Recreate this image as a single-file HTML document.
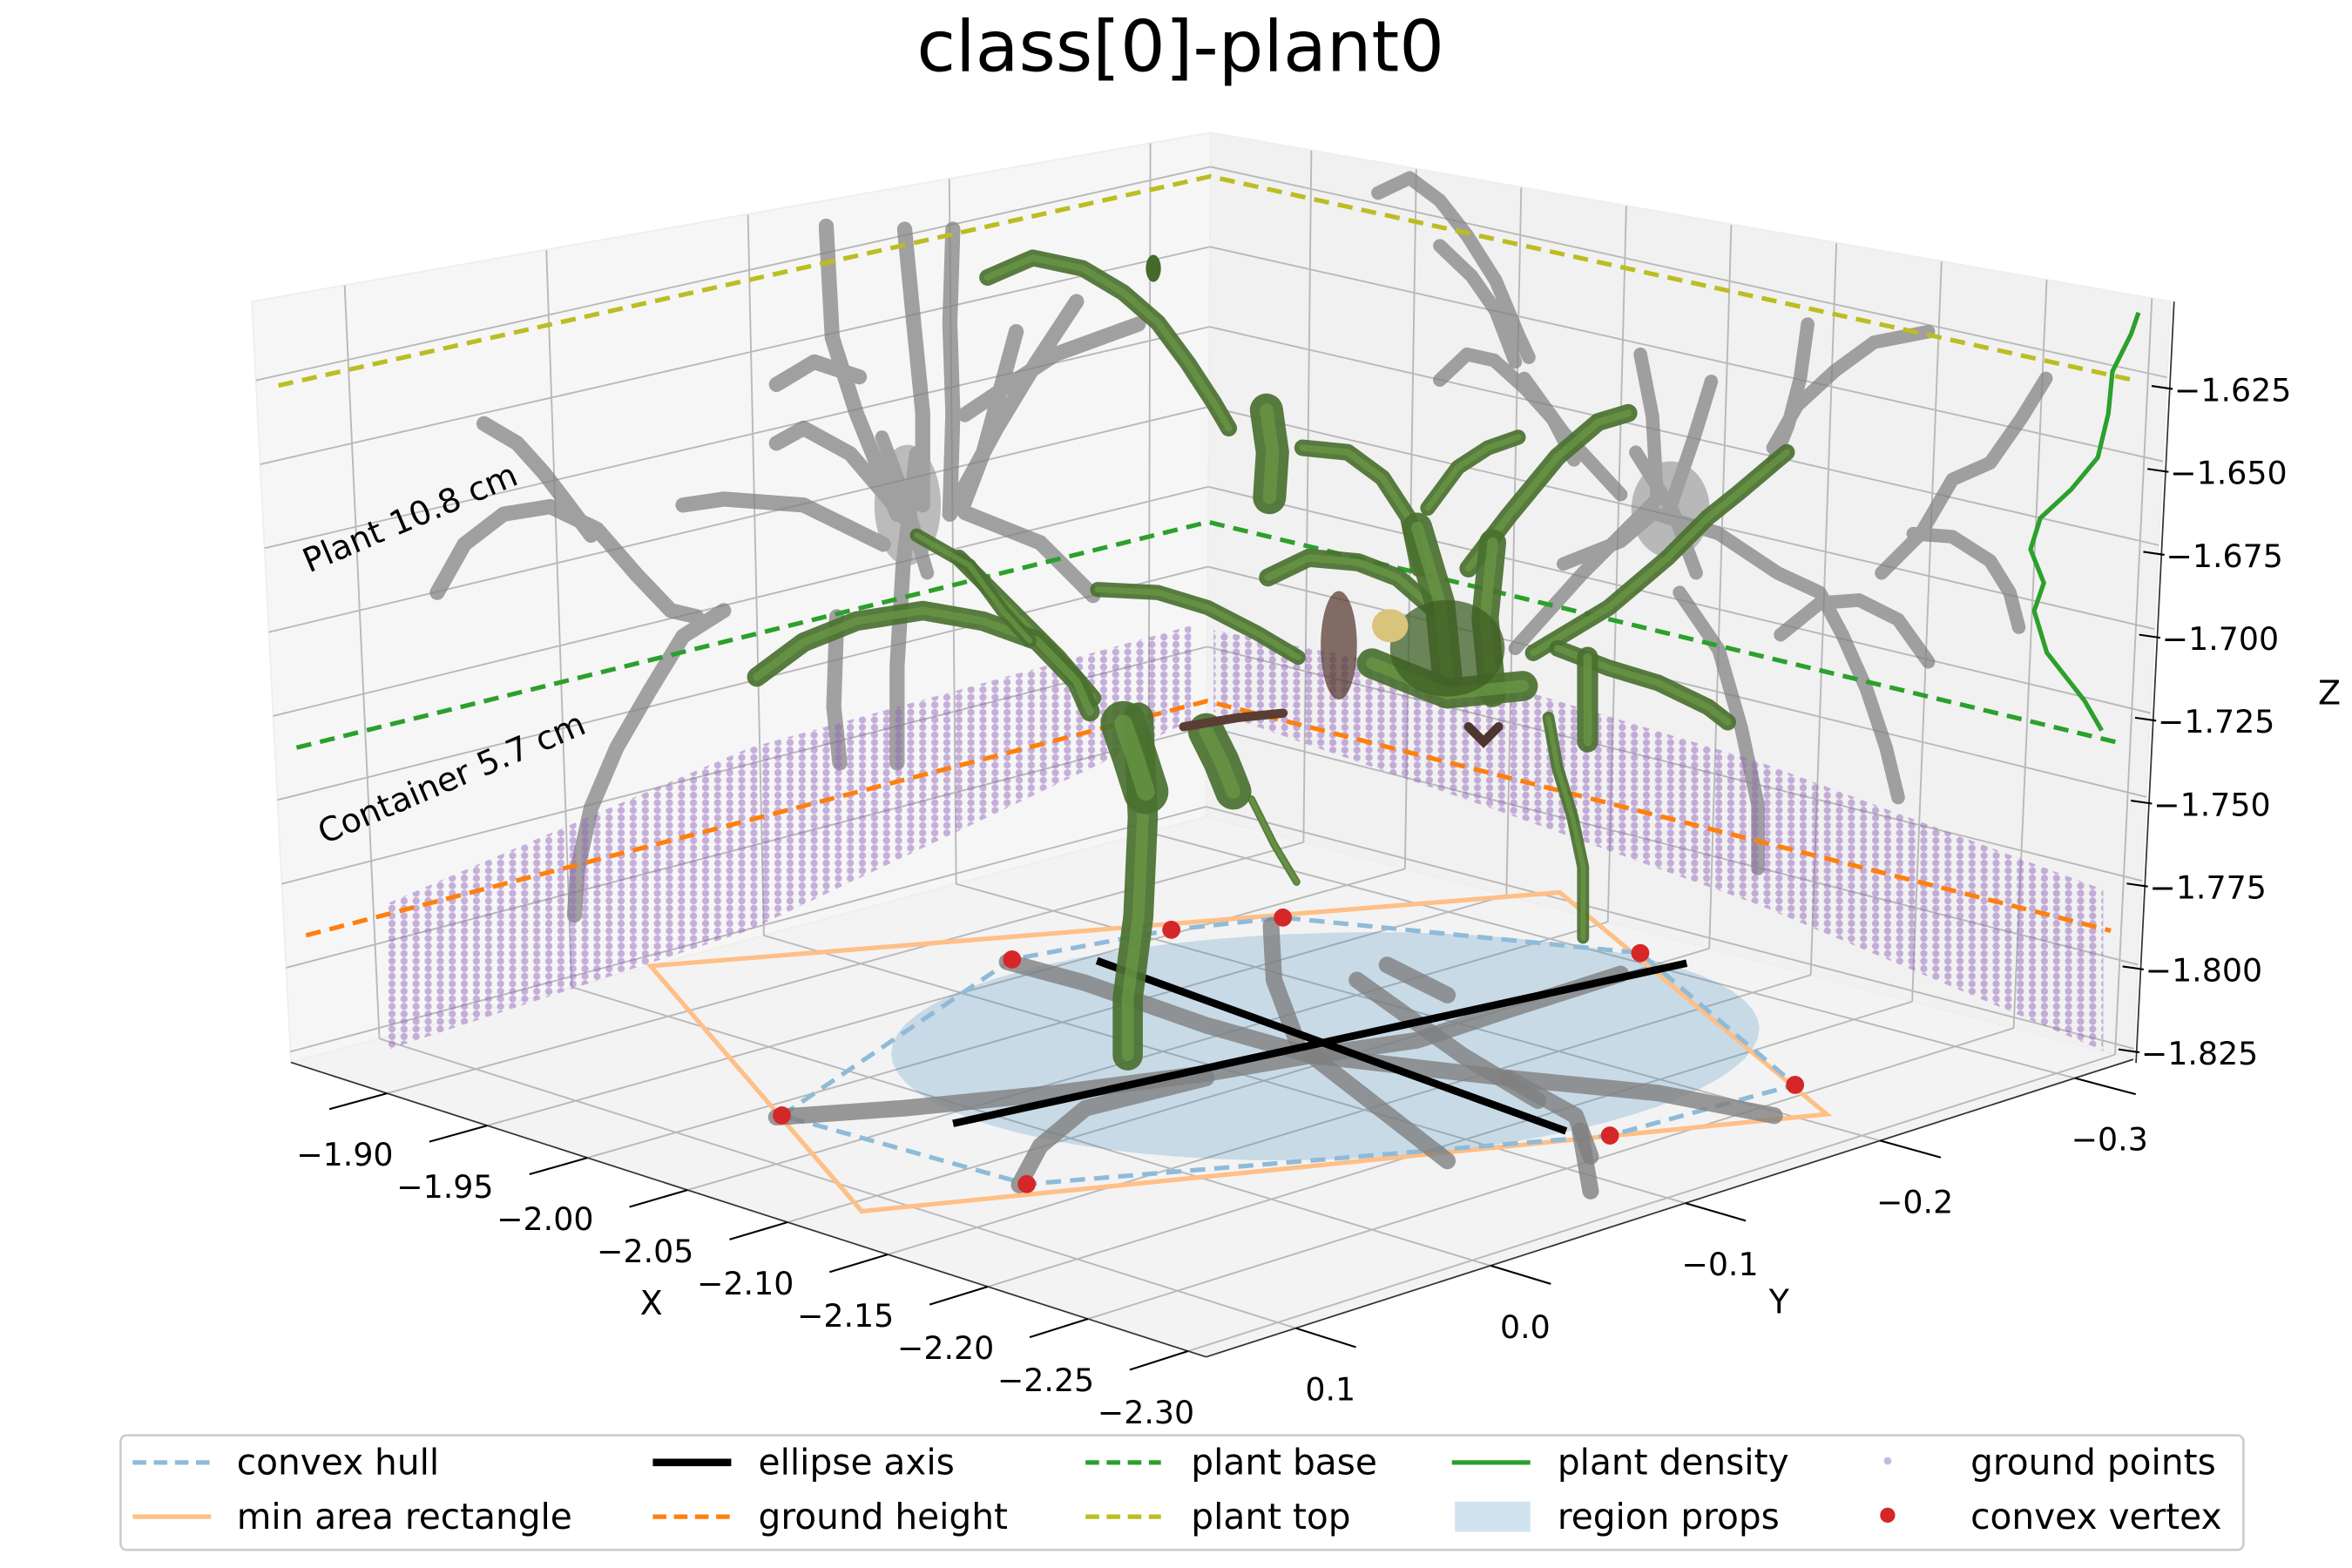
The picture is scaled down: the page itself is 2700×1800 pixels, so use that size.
<!DOCTYPE html>
<html><head><meta charset="utf-8">
<style>
html,body{margin:0;padding:0;background:#fff;}
svg{display:block;font-family:"DejaVu Sans","Liberation Sans",sans-serif;}
</style></head>
<body>
<svg id="chart" xmlns="http://www.w3.org/2000/svg" width="2700" height="1800" viewBox="0 0 1560 1040">
<defs>
<pattern id="purpleDots" width="8" height="5" patternUnits="userSpaceOnUse">
<circle cx="4" cy="2.5" r="2.4" fill="#9467bd" fill-opacity="0.5"/>
</pattern>
</defs>
<rect x="0" y="0" width="1560" height="1040" fill="#fff"/>
<text x="783" y="47" font-size="47" text-anchor="middle" fill="#000">class[0]-plant0</text>
<g id="panes"></g>
<g id="grid"></g>
<g id="shadows" opacity="0.72"></g>
<g id="ground"></g>
<g id="levels"></g>
<g id="floor"></g>
<g id="plant"></g>
<g id="verts"></g>
<g id="axes"></g>
<text x="205" y="380" font-size="22" transform="rotate(-23 205 380)">Plant 10.8 cm</text>
<text x="215" y="560" font-size="22" transform="rotate(-23 215 560)">Container 5.7 cm</text>
<g id="legend" font-size="23.5">
<rect x="80" y="952" width="1408" height="76" rx="4" fill="#fff" fill-opacity="0.8" stroke="#cccccc" stroke-width="1.5"/>
<g><line x1="88" y1="970" x2="140" y2="970" stroke="#8fbbd9" stroke-width="3" stroke-dasharray="9,5"/><text x="157" y="978">convex hull</text></g>
<g><line x1="88" y1="1006" x2="140" y2="1006" stroke="#ffbf86" stroke-width="3"/><text x="157" y="1014">min area rectangle</text></g>
<g><line x1="433" y1="970" x2="485" y2="970" stroke="#000" stroke-width="5"/><text x="503" y="978">ellipse axis</text></g>
<g><line x1="433" y1="1006" x2="485" y2="1006" stroke="#ff7f0e" stroke-width="3" stroke-dasharray="9,5"/><text x="503" y="1014">ground height</text></g>
<g><line x1="720" y1="970" x2="770" y2="970" stroke="#2ca02c" stroke-width="3" stroke-dasharray="9,5"/><text x="790" y="978">plant base</text></g>
<g><line x1="720" y1="1006" x2="770" y2="1006" stroke="#bcbd22" stroke-width="3" stroke-dasharray="9,5"/><text x="790" y="1014">plant top</text></g>
<g><line x1="963" y1="970" x2="1015" y2="970" stroke="#2ca02c" stroke-width="3"/><text x="1033" y="978">plant density</text></g>
<g><rect x="965" y="996" width="50" height="20" fill="#d2e3f0"/><text x="1033" y="1014">region props</text></g>
<g><circle cx="1252" cy="969" r="2.5" fill="#c9b8de"/><text x="1307" y="978">ground points</text></g>
<g><circle cx="1252" cy="1005" r="5" fill="#d62728"/><text x="1307" y="1014">convex vertex</text></g>
</g>
</svg>
<script>
// ---- data ----
const xTicks = [-1.90,-1.95,-2.00,-2.05,-2.10,-2.15,-2.20,-2.25,-2.30];
const xTickLabels = ["\u22121.90","\u22121.95","\u22122.00","\u22122.05","\u22122.10","\u22122.15","\u22122.20","\u22122.25","\u22122.30"];
const yTicks = [0.1,0.0,-0.1,-0.2,-0.3];
const yTickLabels = ["0.1","0.0","\u22120.1","\u22120.2","\u22120.3"];
const zTicks = [-1.625,-1.650,-1.675,-1.700,-1.725,-1.750,-1.775,-1.800,-1.825];
const zTickLabels = ["\u22121.625","\u22121.650","\u22121.675","\u22121.700","\u22121.725","\u22121.750","\u22121.775","\u22121.800","\u22121.825"];
const plantTopZ = -1.628;
const plantBaseZ = -1.736;
const groundZ = -1.792;
const hullX = [-2.011,-1.933,-1.946,-1.963,-2.086,-2.240,-2.234,-2.127];
const hullY = [0.0567,-0.144,-0.213,-0.253,-0.309,-0.228,-0.139,0.0505];
const rectX = [-1.852,-2.011,-2.273,-2.109];
const rectY = [-0.041,-0.346,-0.210,0.117];
const ellipseCenter = [-2.084,-0.148];
const ellipseU = [-0.099,-0.121];
const ellipseV = [0.097,-0.101];
const axis1X = [-2.059,-2.107];
const axis1Y = [0.018,-0.311];
const axis2X = [-1.955,-2.219];
const axis2Y = [-0.165,-0.132];
const densityZ = [-1.6077,-1.6145,-1.6268,-1.6395,-1.6532,-1.6645,-1.675,-1.685,-1.694,-1.703,-1.7145,-1.726,-1.7336];
const densityX = [-2.294,-2.291,-2.283,-2.282,-2.278,-2.266,-2.252,-2.248,-2.255,-2.251,-2.258,-2.277,-2.286];

// ---- projection ----
const XMIN=-1.852, XSPAN=0.457, YMAX=0.146, YSPAN=0.476, ZB=-1.8282;
const YLO=-0.33, XLO=-2.309;
function edgeL(z){const y=259+(-1.628-z)*2226;return [193-(705-y)*0.0515,y];}
function edgeB(z){const y=117+(-1.628-z)*2122;return [800+(542-y)*0.0066,y];}
function edgeR(z){const y=257+(-1.628-z)*2226;return [1415+(702-y)*0.0495,y];}
function edgeF(z){return [800,900-(z-ZB)*2350];}
function P(x,y,z){
  const s=(XMIN-x)/XSPAN, t=(YMAX-y)/YSPAN;
  const L=edgeL(z),F=edgeF(z),R=edgeR(z),B=edgeB(z);
  const a=(1-s)*(1-t),b=s*(1-t),c=s*t,d=(1-s)*t;
  return [a*L[0]+b*F[0]+c*R[0]+d*B[0], a*L[1]+b*F[1]+c*R[1]+d*B[1]];
}
function topZleft(y){const t=(YMAX-y)/YSPAN;return -1.6015+(-1.6143+1.6015)*t;}
function topZright(x){const s=(XMIN-x)/XSPAN;return -1.6143+(-1.6024+1.6143)*s;}
const NS='http://www.w3.org/2000/svg';
function mk(parent,tag,attrs){const e=document.createElementNS(NS,tag);for(const k in attrs)e.setAttribute(k,attrs[k]);parent.appendChild(e);return e;}
function pts(arr){return arr.map(p=>p[0].toFixed(1)+','+p[1].toFixed(1)).join(' ');}

// panes
const panes=document.getElementById('panes');
let el;
el=mk(panes,'polygon',{points:pts([P(XMIN,YMAX,ZB),P(XMIN,YMAX,topZleft(YMAX)),P(XMIN,YLO,topZleft(YLO)),P(XMIN,YLO,ZB)]),fill:'#f6f6f6',stroke:'#eeeeee'});


el=mk(panes,'polygon',{points:pts([P(XMIN,YLO,ZB),P(XMIN,YLO,topZright(XMIN)),P(XLO,YLO,topZright(XLO)),P(XLO,YLO,ZB)]),fill:'#f1f1f1',stroke:'#eeeeee'});


el=mk(panes,'polygon',{points:pts([P(XMIN,YMAX,ZB),P(XLO,YMAX,ZB),P(XLO,YLO,ZB),P(XMIN,YLO,ZB)]),fill:'#f3f3f3',stroke:'#eeeeee'});



// grid
const grid=document.getElementById('grid');
const gs={stroke:'#b9b9b9','stroke-width':1.1,fill:'none'};
function gline(a,b,name){const e=mk(grid,'line',Object.assign({x1:a[0],y1:a[1],x2:b[0],y2:b[1]},gs));}
zTicks.forEach(z=>{gline(P(XMIN,YMAX,z),P(XMIN,YLO,z),'z-grid-left');gline(P(XMIN,YLO,z),P(XLO,YLO,z),'z-grid-right');});
yTicks.forEach(y=>{gline(P(XMIN,y,ZB),P(XMIN,y,topZleft(y)),'y-grid-left');gline(P(XMIN,y,ZB),P(XLO,y,ZB),'y-grid-floor');});
xTicks.forEach(x=>{gline(P(x,YLO,ZB),P(x,YLO,topZright(x)),'x-grid-right');gline(P(x,YMAX,ZB),P(x,YLO,ZB),'x-grid-floor');});

// gray wall projections (point-cloud shapes, screen space)
const shadowLeaves=[
 [[290,393],[308,361],[334,341],[365,336],[396,351],[423,382],[445,405],[462,409]],
 [[321,281],[343,294],[361,314],[374,331],[392,355]],
 [[480,405],[453,422],[431,458],[409,496],[392,536],[383,577],[381,607]],
 [[608,301],[599,375],[595,442],[595,506]],
 [[555,409],[553,469],[557,506]],
 [[595,341],[568,274],[552,224],[548,150]],
 [[612,335],[612,274],[606,214],[600,152]],
 [[630,341],[632,274],[630,214],[632,152]],
 [[630,341],[661,284],[687,241],[714,200]],
 [[604,348],[564,301],[533,284],[515,294]],
 [[586,361],[533,335],[480,331],[453,335]],
 [[639,335],[652,301],[674,220]],
 [[640,275],[700,235],[755,215]],
 [[640,340],[690,360],[725,395]],
 [[515,255],[540,240],[570,250]],
 [[914,128],[935,118],[955,133],[973,156],[992,186],[1007,222],[1014,237]],
 [[955,163],[976,183],[992,206],[1005,240]],
 [[955,252],[973,235],[991,239],[1012,258],[1030,278],[1044,305]],
 [[1088,235],[1096,276],[1099,328]],
 [[1135,253],[1124,289],[1109,333]],
 [[1199,215],[1194,251],[1186,282],[1176,307]],
 [[1279,220],[1243,227],[1217,246],[1192,269],[1176,297]],
 [[1357,251],[1341,277],[1320,307],[1295,318],[1274,354],[1248,380]],
 [[1269,354],[1295,356],[1320,372],[1333,393],[1339,416]],
 [[1011,251],[1037,287],[1075,328]],
 [[1099,341],[1140,354],[1179,380],[1207,393],[1222,421]],
 [[1181,421],[1207,400],[1233,398],[1259,411],[1279,439]],
 [[1114,393],[1140,431],[1155,483],[1166,534],[1166,576]],
 [[1222,421],[1238,457],[1251,496],[1259,529]],
 [[1037,374],[1075,359],[1096,341]],
 [[1100,330],[1050,380],[1005,430]],
 [[585,290],[600,330],[615,380]],
 [[1085,300],[1110,340],[1125,380]]
];
const shadows=document.getElementById('shadows');
shadowLeaves.forEach((lf,i)=>{
 const e=mk(shadows,'polyline',{points:pts(lf),fill:'none',stroke:'#808080','stroke-width':i<15?10:9,'stroke-linecap':'round','stroke-linejoin':'round'});
 
 
});
el=mk(shadows,'ellipse',{cx:602,cy:335,rx:22,ry:40,fill:'#808080','fill-opacity':0.7});


el=mk(shadows,'ellipse',{cx:1108,cy:338,rx:26,ry:32,fill:'#808080','fill-opacity':0.7});



// ground points (purple bands)
const ground=document.getElementById('ground');
el=mk(ground,'polygon',{points:'255,600 497,496 790,415 790,478 497,617 255,697',fill:'url(#purpleDots)'});


el=mk(ground,'polygon',{points:'805,418 1000,455 1166,505 1395,590 1395,697 1166,600 1000,540 805,472',fill:'url(#purpleDots)'});



// level lines
const levels=document.getElementById('levels');
function levelLine(z,color,name){
 const pth=[P(XMIN,0.135,z),P(XMIN,YLO,z),P(-2.295,YLO,z)];
 const e=mk(levels,'polyline',{points:pts(pth),fill:'none',stroke:color,'stroke-width':3,'stroke-dasharray':'10,6'});
 
 
}
levelLine(plantTopZ,'#bcbd22','plant-top-line');
levelLine(plantBaseZ,'#2ca02c','plant-base-line');
levelLine(groundZ,'#ff7f0e','ground-height-line');
el=mk(levels,'polyline',{points:pts(densityZ.map((z,i)=>P(densityX[i],YLO,z))),fill:'none',stroke:'#2ca02c','stroke-width':3,'stroke-linejoin':'round'});



// floor features
const floor=document.getElementById('floor');
const ell=[];
for(let k=0;k<=72;k++){const a=k/72*2*Math.PI;ell.push(P(ellipseCenter[0]+ellipseU[0]*Math.cos(a)+ellipseV[0]*Math.sin(a),ellipseCenter[1]+ellipseU[1]*Math.cos(a)+ellipseV[1]*Math.sin(a),ZB));}
el=mk(floor,'polygon',{points:pts(ell),fill:'#1f77b4','fill-opacity':0.2});


el=mk(floor,'polygon',{points:pts(rectX.map((x,i)=>P(x,rectY[i],ZB))),fill:'none',stroke:'#ffbf86','stroke-width':3});


el=mk(floor,'polygon',{points:pts(hullX.map((x,i)=>P(x,hullY[i],ZB))),fill:'none',stroke:'#8fbbd9','stroke-width':3,'stroke-dasharray':'10,6'});


const floorShadows=[
 [[515,741],[600,735],[700,725],[800,712],[870,700]],
 [[668,638],[720,652],[800,680],[870,700]],
 [[843,614],[845,650],[860,690]],
 [[1075,646],[1000,670],[940,690],[870,700]],
 [[1177,740],[1100,725],[1000,715],[870,700]],
 [[1055,767],[1045,740],[1000,715]],
 [[676,786],[690,760],[720,735],[800,715]],
 [[900,650],[970,700],[1020,730]],
 [[870,700],[960,770]],
 [[920,640],[960,660]],
 [[1048,750],[1055,790]]
];
floorShadows.forEach(lf=>{
 const e=mk(floor,'polyline',{points:pts(lf),fill:'none',stroke:'#808080','stroke-opacity':0.8,'stroke-width':11,'stroke-linecap':'round','stroke-linejoin':'round'});
 
 
});
[[axis1X,axis1Y],[axis2X,axis2Y]].forEach((ax,i)=>{
 const a=P(ax[0][0],ax[1][0],ZB),b=P(ax[0][1],ax[1][1],ZB);
 const e=mk(floor,'line',{x1:a[0],y1:a[1],x2:b[0],y2:b[1],stroke:'#000','stroke-width':5});
 
 
});

// green plant point cloud (screen space shapes)
const plant=document.getElementById('plant');
const greenLeaves=[
 {p:[[655,184],[685,171],[718,178],[745,194],[768,214],[788,241],[805,267],[815,284]],w:11},
 {p:[[840,272],[844,300],[842,330]],w:22},
 {p:[[864,297],[894,300],[917,317],[934,343],[941,377]],w:11},
 {p:[[947,337],[967,310],[987,297],[1007,290]],w:10},
 {p:[[974,377],[1000,343],[1033,303],[1060,280],[1080,274]],w:12},
 {p:[[1017,433],[1067,403],[1106,370],[1133,343],[1153,327],[1185,300]],w:11},
 {p:[[841,383],[868,370],[901,373],[927,383],[950,403]],w:12},
 {p:[[728,391],[768,393],[801,403],[834,420],[861,436]],w:10},
 {p:[[1033,430],[1067,443],[1100,453],[1133,469],[1146,479]],w:11},
 {p:[[1053,436],[1053,492]],w:14},
 {p:[[1027,476],[1033,509],[1043,542],[1050,575],[1050,622]],w:8},
 {p:[[755,476],[758,542],[755,608],[748,662],[748,700]],w:20},
 {p:[[636,370],[669,403],[702,436],[725,463]],w:11},
 {p:[[502,449],[533,426],[568,412],[612,405],[652,412],[688,425],[714,452],[723,472]],w:13},
 {p:[[608,355],[643,375],[665,405],[683,425]],w:9},
 {p:[[745,480],[752,500],[760,525]],w:30},
 {p:[[800,485],[810,505],[818,525]],w:24},
 {p:[[830,530],[845,560],[860,585]],w:5},
 {p:[[940,350],[955,400],[960,450]],w:20},
 {p:[[990,360],[985,410],[990,460]],w:18},
 {p:[[910,440],[960,460],[1010,455]],w:20}
];
greenLeaves.forEach(lf=>{
 const e=mk(plant,'polyline',{points:pts(lf.p),fill:'none',stroke:'#4a7030','stroke-width':lf.w,'stroke-linecap':'round','stroke-linejoin':'round','stroke-opacity':0.92});
 
 
 const e2=mk(plant,'polyline',{points:pts(lf.p),fill:'none',stroke:'#6b9a45','stroke-width':Math.max(3,lf.w*0.4),'stroke-linecap':'round','stroke-linejoin':'round','stroke-opacity':0.7});
 
 
});
el=mk(plant,'ellipse',{cx:960,cy:430,rx:38,ry:32,fill:'#3f5f25','fill-opacity':0.75});


el=mk(plant,'ellipse',{cx:888,cy:428,rx:12,ry:36,fill:'#5a3d35','fill-opacity':0.75});


el=mk(plant,'ellipse',{cx:922,cy:415,rx:12,ry:11,fill:'#d8c47a'});


el=mk(plant,'polyline',{points:'785,482 821,476 851,473',fill:'none',stroke:'#5a3d35','stroke-width':6,'stroke-linecap':'round'});


el=mk(plant,'polyline',{points:'974,482 984,492 994,482',fill:'none',stroke:'#4e3530','stroke-width':6,'stroke-linecap':'round'});


el=mk(plant,'ellipse',{cx:765,cy:178,rx:5,ry:9,fill:'#44692a'});



// hull vertices
const verts=document.getElementById('verts');
hullX.forEach((x,i)=>{const p=P(x,hullY[i],ZB);
 const e=mk(verts,'circle',{cx:p[0],cy:p[1],r:6,fill:'#d62728'});
 
 
});

// axes
const axes=document.getElementById('axes');
function txt(x,y,s,size,anchor,name){const e=mk(axes,'text',{x:x,y:y,'font-size':size,'text-anchor':anchor,fill:'#000'});e.textContent=s;return e;}
let a=P(XMIN,YMAX,ZB),b=P(XLO,YMAX,ZB);
el=mk(axes,'line',{x1:a[0],y1:a[1],x2:b[0],y2:b[1],stroke:'#333','stroke-width':1});


a=P(XLO,YMAX,ZB);b=P(XLO,YLO,ZB);
el=mk(axes,'line',{x1:a[0],y1:a[1],x2:b[0],y2:b[1],stroke:'#333','stroke-width':1});


xTicks.forEach((x,i)=>{const p=P(x,YMAX,ZB),q=P(x,YMAX+0.03,ZB);
 const e=mk(axes,'line',{x1:p[0],y1:p[1],x2:q[0],y2:q[1],stroke:'#000','stroke-width':1.2});
 
 
 txt(p[0]-28,p[1]+48,xTickLabels[i],21,'middle','x-tick-label');
});
yTicks.forEach((y,i)=>{const p=P(XLO,y,ZB),q=P(XLO-0.03,y,ZB);
 const e=mk(axes,'line',{x1:p[0],y1:p[1],x2:q[0],y2:q[1],stroke:'#000','stroke-width':1.2});
 
 
 txt(p[0]+23,p[1]+48,yTickLabels[i],21,'middle','y-tick-label');
});
function zScreenY(z){return 258+(-1.625-z)*2200;}
function zAxisX(y){return 1442-(y-200)*0.05;}
el=mk(axes,'line',{x1:zAxisX(200),y1:200,x2:zAxisX(705),y2:705,stroke:'#333','stroke-width':1});


zTicks.forEach((z,i)=>{const y=zScreenY(z),x=zAxisX(y);
 const e=mk(axes,'line',{x1:x-12,y1:y-2,x2:x+2,y2:y,stroke:'#000','stroke-width':1.2});
 
 
 txt(x+3,y+8,zTickLabels[i],21,'start','z-tick-label');
});
txt(432,872,'X',22,'middle','x-axis-title');
txt(1180,871,'Y',22,'middle','y-axis-title');
txt(1545,467,'Z',22,'middle','z-axis-title');
</script>
</body></html>
